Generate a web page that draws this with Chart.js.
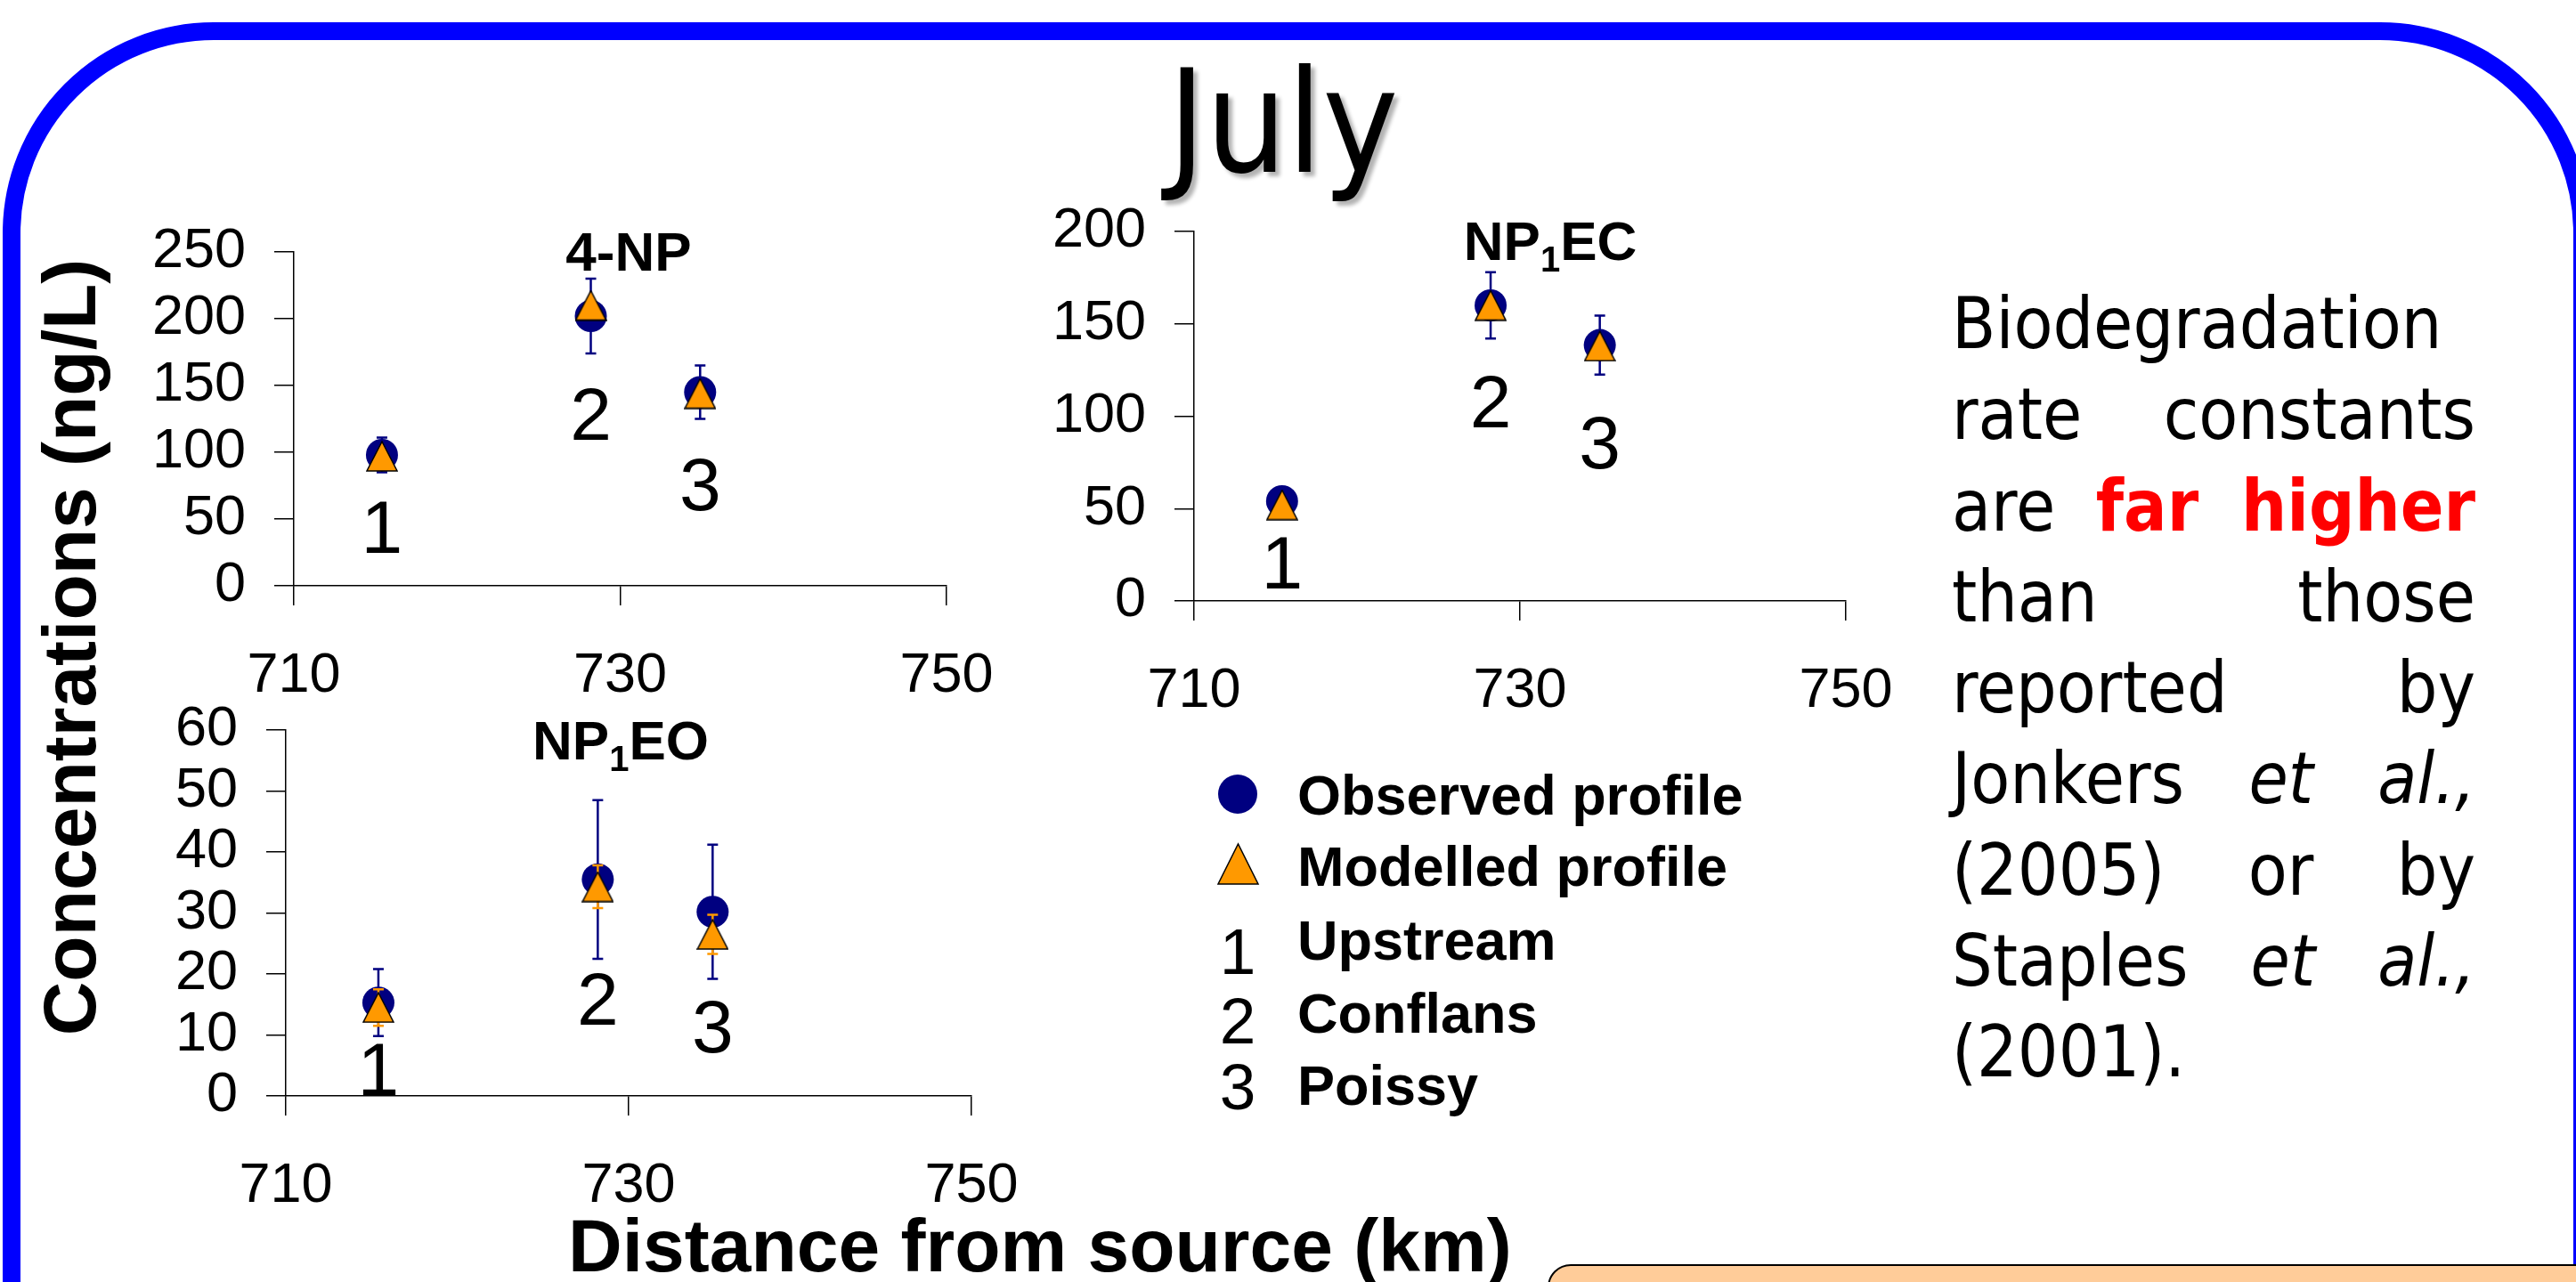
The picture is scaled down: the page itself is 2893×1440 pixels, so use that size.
<!DOCTYPE html>
<html>
<head>
<meta charset="utf-8">
<title>July</title>
<script src="https://cdn.jsdelivr.net/npm/chart.js@4.4.1/dist/chart.umd.min.js"></script>
<style>
  html, body { margin: 0; padding: 0; }
  body { width: 2893px; height: 1440px; position: relative; overflow: hidden; background: #fff;
         font-family: "Liberation Sans", Arial, sans-serif; color: #000; }
  .abs { position: absolute; white-space: nowrap; }
  canvas { position: absolute; }
  /* blue rounded frame, partly cut by the page edges */
  .frame { position: absolute; left: 3px; top: 25px; width: 2907px; height: 1700px; box-sizing: border-box;
           border: 20px solid #0000ff; border-radius: 237px; }
  .note { position: absolute; left: 1738px; top: 1420px; width: 1300px; height: 200px; box-sizing: border-box;
          background: #ffcc99; border: 2px solid #000; border-top-left-radius: 26px; }
  .month { left: 1241px; width: 400px; top: 58px; text-align: center; font: 160px/1 "DejaVu Sans", sans-serif;
           font-stretch: condensed; text-shadow: 5px 5px 4px rgba(0,0,0,0.3); }
  .ptitle { width: 400px; text-align: center; font: bold 62px/1 "Liberation Sans", Arial, sans-serif; }
  .ptitle span { font-size: 40px; position: relative; top: 13px; }
  .axtitle { font: bold 84px/84px "Liberation Sans", Arial, sans-serif; }
  .leg { font: bold 63px/1 "Liberation Sans", Arial, sans-serif; }
  .legnum { width: 80px; text-align: center; font: 73px/1 "Liberation Sans", Arial, sans-serif; }
  .para { left: 2192px; top: 313px; width: 588px; font: 80px/102.3px "DejaVu Sans", sans-serif; font-stretch: condensed; }
  .para div { text-align: justify; text-align-last: justify; white-space: nowrap; }
  .para div.left { text-align-last: left; }
  .hot { color: #ff0000; font-weight: bold; }
</style>
</head>
<body>
<div class="frame"></div>

<div class="abs month">July</div>

<canvas id="chartNP" width="1113" height="545" style="left:30px;top:243px;width:1113px;height:545px"></canvas>
<canvas id="chartEC" width="1112" height="585" style="left:1041px;top:220px;width:1112px;height:585px"></canvas>
<canvas id="chartEO" width="1150" height="581" style="left:21px;top:780px;width:1150px;height:581px"></canvas>

<div class="abs ptitle" style="left:506px;top:252px">4-NP</div>
<div class="abs ptitle" style="left:1541px;top:240px">NP<span>1</span>EC</div>
<div class="abs ptitle" style="left:497px;top:801px">NP<span>1</span>EO</div>

<div class="abs axtitle" style="left:638px;top:1357px">Distance from source (km)</div>
<div class="abs axtitle" style="left:-422px;top:685px;width:1000px;height:84px;text-align:center;transform:rotate(-90deg)">Concentrations (ng/L)</div>

<svg class="abs" style="left:1360px;top:860px" width="70" height="150">
  <circle cx="30" cy="32" r="22" fill="#000080"/>
  <polygon points="8,133 53,133 30.5,88" fill="#ff9900" stroke="#000" stroke-width="1.5"/>
</svg>
<div class="abs leg" style="left:1457px;top:862px">Observed profile</div>
<div class="abs leg" style="left:1457px;top:942px">Modelled profile</div>
<div id="legendStations"></div>

<div class="abs para">
  <div class="left">Biodegradation</div>
  <div>rate constants</div>
  <div>are <span class="hot">far higher</span></div>
  <div>than those</div>
  <div>reported by</div>
  <div>Jonkers <i>et al.,</i></div>
  <div>(2005) or by</div>
  <div>Staples <i>et al.,</i></div>
  <div class="left">(2001).</div>
</div>

<div class="note"></div>

<script>
// station positions (km from source) and their names
const stationKm = [715.4, 728.2, 734.9];
const stationNames = ["1", "2", "3"];
const stationPlaces = ["Upstream", "Conflans", "Poissy"];
const xTickValues = [710, 730, 750];

// 4-NP
const np4Observed = [98, 202, 145];
const np4ObservedErr = [13, 28, 20];
const np4Modelled = [97, 210, 144];
const np4LabelY = [40, 125, 72];
const np4Ticks = [0, 50, 100, 150, 200, 250];

// NP1EC
const np1ecObserved = [54, 160, 138.5];
const np1ecObservedErr = [0, 18, 16];
const np1ecModelled = [52, 160, 138];
const np1ecLabelY = [18, 105, 83];
const np1ecTicks = [0, 50, 100, 150, 200];

// NP1EO
const np1eoObserved = [15.3, 35.5, 30.2];
const np1eoObservedErr = [5.5, 13, 11];
const np1eoModelled = [14.5, 34.3, 26.5];
const np1eoModelledErr = [3, 3.5, 3.2];
const np1eoLabelY = [3.5, 15, 10.5];
const np1eoTicks = [0, 10, 20, 30, 40, 50, 60];

const tickFont = { family: "'Liberation Sans', Arial, sans-serif", size: 63 };

// legend station rows
const legendBox = document.getElementById("legendStations");
const legNumTop = [1032, 1110, 1184];
const legTextTop = [1025, 1107, 1188];
stationNames.forEach((n, i) => {
  legendBox.insertAdjacentHTML("beforeend",
    '<div class="abs legnum" style="left:1350px;top:' + legNumTop[i] + 'px">' + n + '</div>' +
    '<div class="abs leg" style="left:1457px;top:' + legTextTop[i] + 'px">' + stationPlaces[i] + '</div>');
});

// orange triangle marker, centred on its box like the spreadsheet one
function makeTriangle(w, h) {
  const c = document.createElement("canvas");
  c.width = w; c.height = h;
  const g = c.getContext("2d");
  g.beginPath();
  g.moveTo(w / 2, 1); g.lineTo(w - 1, h - 1); g.lineTo(1, h - 1); g.closePath();
  g.fillStyle = "#ff9900"; g.fill();
  g.lineWidth = 1.5; g.strokeStyle = "#000"; g.stroke();
  return c;
}
const triangle = makeTriangle(36, 35);

// vertical error bars, drawn just before each dataset's markers
const errorBars = {
  id: "errorBars",
  beforeDatasetDraw(chart, args) {
    const ds = chart.data.datasets[args.index];
    if (!ds.errors) return;
    const xs = chart.scales.x, ys = chart.scales.y, ctx = chart.ctx;
    ctx.save();
    ctx.strokeStyle = ds.errorColor;
    ctx.lineWidth = 2.5;
    ds.data.forEach((p, i) => {
      const e = ds.errors[i];
      if (!e) return;
      const x = xs.getPixelForValue(p.x);
      const yTop = ys.getPixelForValue(p.y + e);
      const yBot = ys.getPixelForValue(p.y - e);
      ctx.beginPath();
      ctx.moveTo(x, yTop); ctx.lineTo(x, yBot);
      ctx.moveTo(x - 6, yTop); ctx.lineTo(x + 6, yTop);
      ctx.moveTo(x - 6, yBot); ctx.lineTo(x + 6, yBot);
      ctx.stroke();
    });
    ctx.restore();
  }
};

// big station numbers placed in data space
function stationLabels(labelY) {
  return {
    id: "stationLabels",
    afterDatasetsDraw(chart) {
      const ctx = chart.ctx;
      ctx.save();
      ctx.font = "84px 'Liberation Sans', Arial, sans-serif";
      ctx.fillStyle = "#000";
      ctx.textAlign = "center";
      ctx.textBaseline = "middle";
      labelY.forEach((v, i) => {
        ctx.fillText(stationNames[i], chart.scales.x.getPixelForValue(stationKm[i]), chart.scales.y.getPixelForValue(v));
      });
      ctx.restore();
    }
  };
}

const toPoints = (ys) => ys.map((y, i) => ({ x: stationKm[i], y: y }));

function makeChart(id, observed, observedErr, modelled, modelledErr, labelY, yTicks) {
  const axisGrid = { drawOnChartArea: false, drawTicks: true, tickLength: 22, color: "#000", lineWidth: 1.5 };
  return new Chart(document.getElementById(id), {
    type: "scatter",
    data: {
      datasets: [
        {
          label: "Observed profile",
          data: toPoints(observed),
          errors: observedErr,
          errorColor: "#000080",
          pointStyle: "circle",
          pointRadius: 18,
          backgroundColor: "#000080",
          borderColor: "#000080",
          borderWidth: 0,
          order: 2
        },
        {
          label: "Modelled profile",
          data: toPoints(modelled),
          errors: modelledErr,
          errorColor: "#ff9900",
          pointStyle: triangle,
          pointRadius: 18,
          order: 1
        }
      ]
    },
    options: {
      responsive: false,
      animation: false,
      events: [],
      layout: { padding: { top: 40, right: 80, bottom: 0, left: 0 } },
      plugins: { legend: { display: false }, tooltip: { enabled: false } },
      scales: {
        x: {
          type: "linear",
          min: xTickValues[0],
          max: xTickValues[xTickValues.length - 1],
          afterBuildTicks: (s) => { s.ticks = xTickValues.map((v) => ({ value: v })); },
          afterFit: (s) => { s.height = 130; s.paddingLeft = 40; s.paddingRight = 40; },
          ticks: { font: tickFont, color: "#000", padding: 42, maxRotation: 0, autoSkip: false },
          grid: axisGrid,
          border: { color: "#000", width: 1.5 }
        },
        y: {
          type: "linear",
          min: yTicks[0],
          max: yTicks[yTicks.length - 1],
          afterBuildTicks: (s) => { s.ticks = yTicks.map((v) => ({ value: v })); },
          afterFit: (s) => { s.width = 300; s.paddingTop = 30; s.paddingBottom = 30; },
          ticks: { font: tickFont, color: "#000", padding: 32, autoSkip: false },
          grid: axisGrid,
          border: { color: "#000", width: 1.5 }
        }
      }
    },
    plugins: [errorBars, stationLabels(labelY)]
  });
}

makeChart("chartNP", np4Observed, np4ObservedErr, np4Modelled, null, np4LabelY, np4Ticks);
makeChart("chartEC", np1ecObserved, np1ecObservedErr, np1ecModelled, null, np1ecLabelY, np1ecTicks);
makeChart("chartEO", np1eoObserved, np1eoObservedErr, np1eoModelled, np1eoModelledErr, np1eoLabelY, np1eoTicks);
</script>
</body>
</html>
